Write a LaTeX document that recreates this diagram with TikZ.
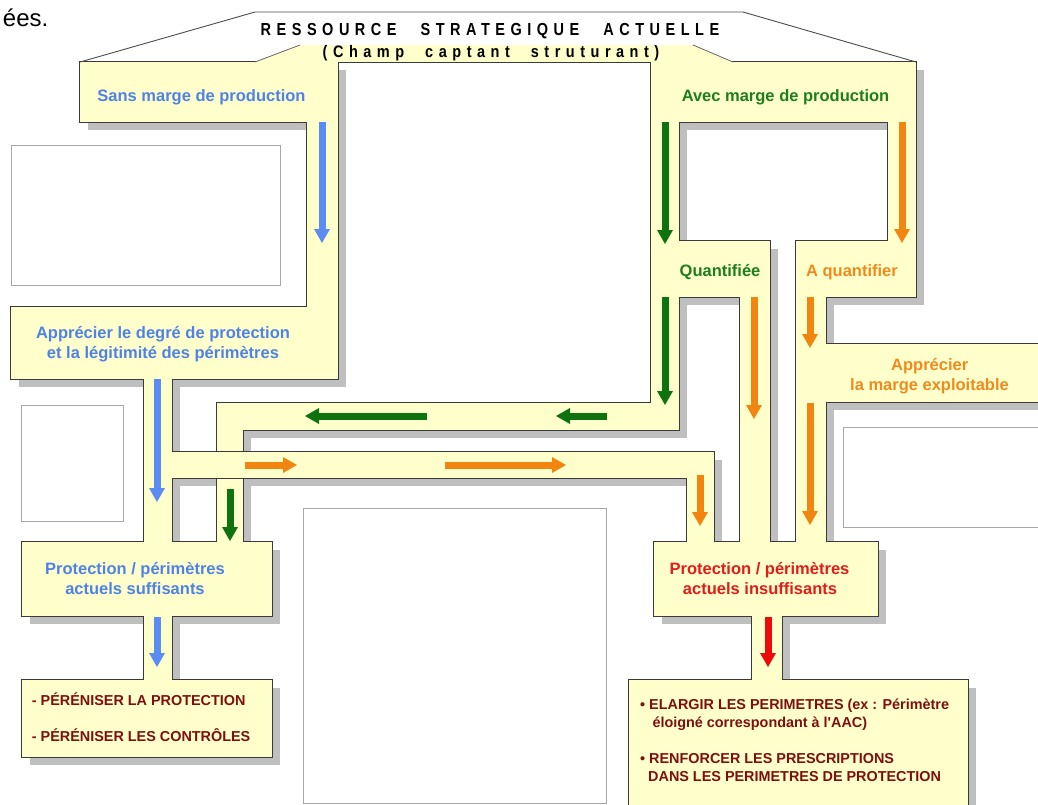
\documentclass[tikz,border=0pt]{standalone}
\usepackage{fontspec}
\usepackage{graphicx}
\setmainfont{Liberation Sans}
\usetikzlibrary{arrows.meta}
\definecolor{yel}{HTML}{FFFFCC}
\definecolor{shd}{HTML}{BFBFBF}
\definecolor{edgec}{HTML}{3A3A3A}
\definecolor{bluT}{HTML}{4F82E8}
\definecolor{bluA}{HTML}{5A8CF2}
\definecolor{grnT}{HTML}{1E7E1E}
\definecolor{grnA}{HTML}{0E720E}
\definecolor{orgT}{HTML}{F08A1E}
\definecolor{orgA}{HTML}{F28510}
\definecolor{redT}{HTML}{E31B1B}
\definecolor{redA}{HTML}{EE0A0A}
\definecolor{drk}{HTML}{7F0F0F}
\definecolor{boxE}{HTML}{A8A8A8}
\def\yrects{80/62/307/122, 307/62/338/379, 651/62/916/122, 651/62/679/430,
 888/62/916/297, 651/241/770/297, 796/241/916/297, 740/241/770/542,
 796/241/826/542, 826/344/1050/402, 217/403/679/430, 217/403/243/542,
 11/307/338/379, 144/379/172/680, 144/452/714/478, 687/452/714/542,
 22/542/272/616, 22/680/272/757, 654/542/878/616, 752/616/782/680,
 629/680/968/815}
\begin{document}
\begin{tikzpicture}[x=1pt,y=-1pt,
  phbox/.style={draw=boxE,line width=0.9,fill=white},
  edgeline/.style={draw=edgec,line width=0.9},
  arr/.style={line width=7,-{Triangle[width=16pt,length=14pt,line width=0pt]}},
  lbl/.style={inner sep=0,anchor=base,font=\bfseries\fontsize{16.5}{19}\selectfont},
  act/.style={inner sep=0,anchor=base west,text=drk,font=\bfseries\fontsize{14.4}{17}\selectfont},
  ttl/.style={inner sep=0,anchor=base,font=\bfseries\fontsize{14.5}{16}\selectfont}]
\useasboundingbox (0,0) rectangle (1038,804);
\fill[white] (0,0) rectangle (1038,804);
% placeholder boxes
\path[phbox] (11.5,145) rectangle (280,285);
\path[phbox] (21,405) rectangle (123,521.5);
\path[phbox] (303,508) rectangle (606,803);
\path[phbox] (843,427) rectangle (1050,527);
% shadows
\foreach \a/\b/\c/\d in \yrects {\fill[shd] (\a+8,\b+8) rectangle (\c+8,\d+8);}
% outlines (outer half remains visible)
\foreach \a/\b/\c/\d in \yrects {\draw[edgec,line width=1.8] (\a,\b) rectangle (\c,\d);}
% yellow fill
\foreach \a/\b/\c/\d in \yrects {\fill[yel] (\a,\b) rectangle (\c,\d);}
\fill[yel] (255,62) -- (300,45) -- (693,45) -- (733,62) -- cycle;
% extra edges
\coordinate (h1) at (338,62.45); \coordinate (h2) at (651,62.45);
\draw[edgeline] (h1) -- (h2);
\coordinate (c1) at (217,451.55); \coordinate (c2) at (243,451.55);
\coordinate (c3) at (217,478.45); \coordinate (c4) at (243,478.45);
\draw[edgeline] (c1) -- (c2);
\draw[edgeline] (c3) -- (c4);
\coordinate (d1) at (255,62); \coordinate (d2) at (300,45);
\coordinate (d3) at (693,45); \coordinate (d4) at (733,62);
\draw[draw=gray!80!black,line width=0.8] (d1) -- (d2);
\draw[draw=gray!80!black,line width=0.8] (d3) -- (d4);
\coordinate (r1) at (80,62); \coordinate (r2) at (255,12);
\coordinate (r3) at (743,12); \coordinate (r4) at (916,62);
\draw[draw=gray!60!black,line width=0.9] (r1) -- (r2) -- (r3) -- (r4);
% arrows
\draw[arr,bluA] (322,122) -- (322,243);
\draw[arr,bluA] (157,379) -- (157,502);
\draw[arr,bluA] (157,617) -- (157,667);
\draw[arr,grnA] (665,122) -- (665,244);
\draw[arr,grnA] (665,297) -- (665,405);
\draw[arr,grnA] (607,416) -- (556,416);
\draw[arr,grnA] (427,416) -- (305,416);
\draw[arr,grnA] (230,489) -- (230,541);
\draw[arr,orgA] (902,122) -- (902,243);
\draw[arr,orgA] (754,297) -- (754,419);
\draw[arr,orgA] (810,297) -- (810,348);
\draw[arr,orgA] (810,403) -- (810,525);
\draw[arr,orgA] (245,465) -- (297,465);
\draw[arr,orgA] (445,465) -- (566,465);
\draw[arr,orgA] (700,475) -- (700,526);
\draw[arr,redA] (768,617) -- (768,667);
% texts
\node[inner sep=0,anchor=base east,font=\fontsize{24}{28}\selectfont] (frag) at (48.5,26) {ées.};
\node[ttl] (t1) at (490,35) {\scalebox{1}[1.2]{\addfontfeatures{LetterSpace=38}RESSOURCE\hspace{24pt}STRATEGIQUE\hspace{24pt}ACTUELLE}};
\node[ttl] (t2) at (491,57.3) {\scalebox{1}[1.15]{\addfontfeatures{LetterSpace=38}(Champ\hspace{21pt}captant\hspace{21pt}struturant)}};
\node[lbl,text=bluT] (sm) at (201.5,101.7) {Sans marge de production};
\node[lbl,text=grnT] (am) at (785.5,101.7) {Avec marge de production};
\node[lbl,text=grnT] (qf) at (720,276) {Quantifiée};
\node[lbl,text=orgT] (aq) at (852,276) {A quantifier};
\node[lbl,text=orgT] (me1) at (929.7,370) {Apprécier};
\node[lbl,text=orgT] (me2) at (929.5,390) {la marge exploitable};
\node[lbl,text=bluT] (ad1) at (163,338.3) {Apprécier le degré de protection};
\node[lbl,text=bluT] (ad2) at (163,358.3) {et la légitimité des périmètres};
\node[lbl,text=bluT] (ps1) at (135,574) {Protection / périmètres};
\node[lbl,text=bluT] (ps2) at (135,594.3) {actuels suffisants};
\node[lbl,text=redT] (pi1) at (759.5,574) {Protection / périmètres};
\node[lbl,text=redT] (pi2) at (760,594.3) {actuels insuffisants};
\node[act] (p1) at (31.7,705.7) {- PÉRÉNISER LA PROTECTION};
\node[act] (p2) at (31.7,741) {- PÉRÉNISER LES CONTRÔLES};
\node[act] (e1) at (640,709.3) {• ELARGIR LES PERIMETRES (ex : Périmètre};
\node[act] (e2) at (652.3,727.7) {éloigné correspondant à l\textquotesingle AAC)};
\node[act] (e3) at (640,763.3) {• RENFORCER LES PRESCRIPTIONS};
\node[act] (e4) at (648,781) {DANS LES PERIMETRES DE PROTECTION};
\end{tikzpicture}
\end{document}
